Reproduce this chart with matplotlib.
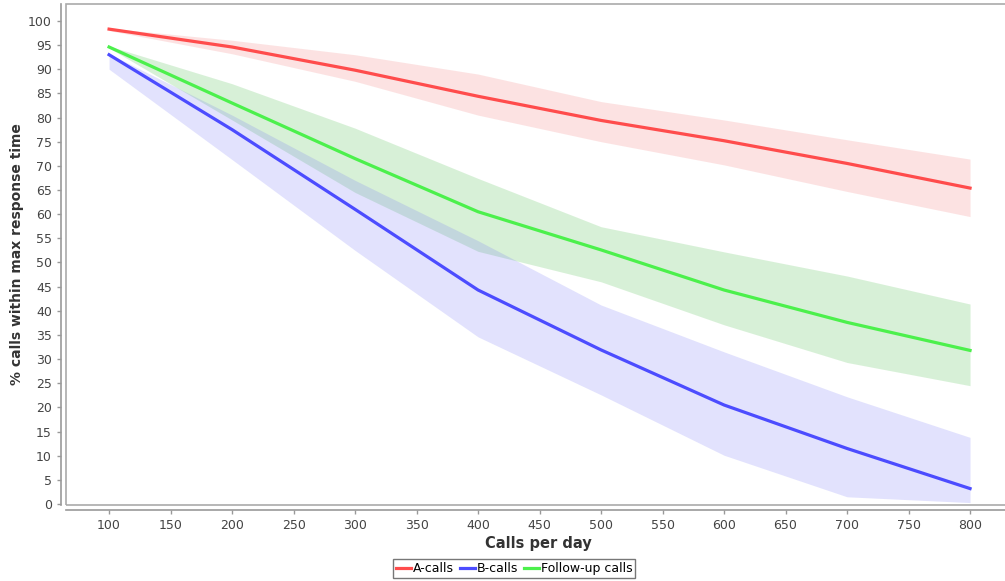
import matplotlib.pyplot as plt
from matplotlib.patches import Rectangle

calls_per_day = [100, 200, 300, 400, 500, 600, 700, 800]

a_calls = [98.3, 94.6, 89.8, 84.4, 79.4, 75.2, 70.5, 65.4]
a_upper = [98.5, 96.0, 93.0, 89.0, 83.3, 79.5, 75.4, 71.4]
a_lower = [98.0, 93.2, 87.5, 80.5, 75.0, 70.2, 64.7, 59.5]

b_calls = [93.0, 77.5, 61.0, 44.3, 31.9, 20.5, 11.5, 3.2]
b_upper = [93.2, 80.5, 67.0, 54.5, 41.2, 31.5, 22.2, 13.8]
b_lower = [90.0, 71.3, 52.5, 34.6, 22.6, 10.1, 1.5, 0.3]

f_calls = [94.6, 83.0, 71.5, 60.5, 52.6, 44.3, 37.6, 31.8]
f_upper = [94.8, 87.0, 77.8, 67.4, 57.4, 52.2, 47.2, 41.4]
f_lower = [94.4, 79.5, 64.5, 52.3, 46.0, 37.1, 29.3, 24.5]

x_ticks = list(range(100, 801, 50))
y_ticks = list(range(0, 101, 5))

fig = plt.figure(figsize=(10.05, 5.81), dpi=100)
# right edge runs a little past the picture, as in the original
ax = fig.add_axes([0.0657, 0.1308, 0.9393, 0.8623])

ax.fill_between(calls_per_day, a_lower, a_upper, color="#ef5050", alpha=0.16, lw=0)
ax.fill_between(calls_per_day, f_lower, f_upper, color="#4cbf4c", alpha=0.22, lw=0)
ax.fill_between(calls_per_day, b_lower, b_upper, color="#7070f8", alpha=0.2, lw=0)

ax.plot(calls_per_day, a_calls, color="#ff4c4c", lw=2.3, label="A-calls")
ax.plot(calls_per_day, b_calls, color="#4c4cff", lw=2.3, label="B-calls")
ax.plot(calls_per_day, f_calls, color="#4cf04c", lw=2.3, label="Follow-up calls")

ax.set_xlim(65, 832.5)
ax.set_ylim(-0.2, 103.5)
ax.set_xticks(x_ticks)
ax.set_yticks(y_ticks)

# axis lines sit a few pixels away from the plot frame
for side in ["left", "bottom"]:
    ax.spines[side].set_position(("outward", 3.6))
    ax.spines[side].set_color("#999999")
    ax.spines[side].set_linewidth(1.2)
ax.spines["right"].set_visible(False)
ax.spines["top"].set_visible(False)

frame = Rectangle((0, 0), 1, 1, transform=ax.transAxes, fill=False,
                  edgecolor="#aaaaaa", lw=1.2, clip_on=False)
ax.add_patch(frame)

ax.tick_params(axis="both", colors="#999999", length=3, width=1,
               labelcolor="#444444", labelsize=9)

ax.set_xlabel("Calls per day", fontsize=10.5, fontweight="bold",
              color="#333333", labelpad=3)
ax.set_ylabel("% calls within max response time", fontsize=10,
              fontweight="bold", color="#333333", labelpad=3)

leg = ax.legend(loc="upper center", bbox_to_anchor=(0.475, -0.108), ncol=3,
                frameon=True, fancybox=False, fontsize=9, handlelength=1.2,
                handletextpad=0.15, columnspacing=0.45, borderpad=0.25,
                borderaxespad=0)
leg.get_frame().set_edgecolor("#555555")
leg.get_frame().set_linewidth(1.0)

fig.savefig("out.png", dpi=100)
